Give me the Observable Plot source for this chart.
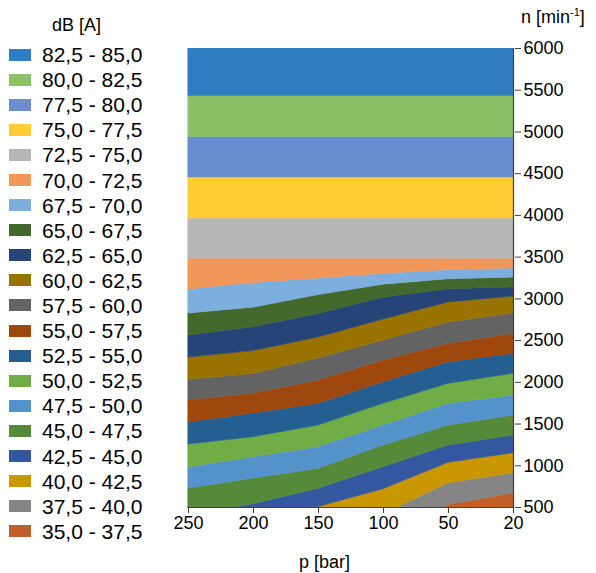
<!DOCTYPE html>
<html><head><meta charset="utf-8">
<script src="https://cdn.jsdelivr.net/npm/d3@7"></script>
<script src="https://cdn.jsdelivr.net/npm/@observablehq/plot@0.6"></script>
<style>
body{margin:0;background:#fff;font-family:"Liberation Sans",Arial,sans-serif;}
#wrap{position:relative;width:596px;height:573px;overflow:hidden;}
#chart{position:absolute;left:0;top:0;}
.t{position:absolute;font-size:18px;color:#000;white-space:nowrap;line-height:1;}
.t sup{font-size:11px;vertical-align:7px;line-height:0;}
#legend{position:absolute;left:9px;top:42px;}
.row{display:flex;align-items:center;height:25.1px;}
.sw{width:22px;height:12px;margin-right:11px;flex:none;}
.lb{font-size:21px;line-height:1;color:#000;white-space:nowrap;}
</style></head><body>
<div id="wrap">
  <div id="chart"></div>
  <div class="t" style="left:52px;top:16px">dB [A]</div>
  <div class="t" style="left:521px;top:8px">n [min<sup>-1</sup>]</div>
  <div class="t" style="left:299px;top:553px">p [bar]</div>
  <div id="legend"></div>
</div>
<script>
// p categories (left to right)
const pLabels = ["250", "200", "150", "100", "50", "20"];
// n tick values (right axis)
const yTicks = [500, 1000, 1500, 2000, 2500, 3000, 3500, 4000, 4500, 5000, 5500, 6000];

// band labels, low to high
const bandLabels = [
  "35,0 - 37,5", "37,5 - 40,0", "40,0 - 42,5", "42,5 - 45,0", "45,0 - 47,5",
  "47,5 - 50,0", "50,0 - 52,5", "52,5 - 55,0", "55,0 - 57,5", "57,5 - 60,0",
  "60,0 - 62,5", "62,5 - 65,0", "65,0 - 67,5", "67,5 - 70,0", "70,0 - 72,5",
  "72,5 - 75,0", "75,0 - 77,5", "77,5 - 80,0", "80,0 - 82,5", "82,5 - 85,0"
];
const bandColors = [
  "#C05F29", "#858585", "#C99800", "#3358A0", "#558A3A",
  "#5592CB", "#70AD47", "#255E91", "#9E480E", "#636363",
  "#997300", "#264478", "#43682B", "#7CAFDD", "#F1975A",
  "#B7B7B7", "#FFCD33", "#698ED0", "#8CC168", "#327DC2"
];

// speed n [min^-1] at which each dB level is reached, per p column
const n35   = [-800, -600, -400, -200, 250, 420];
const n37_5 = [-400, -200, 0, 200, 530, 670];
const n40   = [-200, 0, 200, 420, 790, 910];
const n42_5 = [100, 300, 505, 720, 1035, 1150];
const n45   = [400, 540, 724, 983, 1243, 1363];
const n47_5 = [728, 847, 964, 1243, 1483, 1602];
const n50   = [979, 1103, 1223, 1483, 1743, 1842];
const n52_5 = [1255, 1342, 1483, 1743, 1982, 2102];
const n55   = [1519, 1626, 1743, 2001, 2241, 2342];
const n57_5 = [1782, 1866, 2022, 2262, 2462, 2581];
const n60   = [2030, 2100, 2286, 2502, 2717, 2825];
const n62_5 = [2297, 2375, 2537, 2753, 2957, 3028];
const n65   = [2561, 2660, 2820, 3015, 3115, 3138];
const n67_5 = [2825, 2895, 3045, 3170, 3235, 3255];
const n70   = [3112, 3190, 3245, 3300, 3345, 3365];
const n72_5 = [3480, 3480, 3480, 3480, 3480, 3480];
const n75   = [3965, 3965, 3965, 3965, 3965, 3965];
const n77_5 = [4455, 4455, 4455, 4455, 4455, 4455];
const n80   = [4940, 4940, 4940, 4940, 4940, 4940];
const n82_5 = [5430, 5430, 5430, 5430, 5430, 5430];
const n85   = [6000, 6000, 6000, 6000, 6000, 6000];

const levels = [n35, n37_5, n40, n42_5, n45, n47_5, n50, n52_5, n55, n57_5,
  n60, n62_5, n65, n67_5, n70, n72_5, n75, n77_5, n80, n82_5, n85];

const rows = [];
bandLabels.forEach((b, i) => {
  pLabels.forEach((p, j) => {
    rows.push({band: b, p, lo: levels[i][j], hi: levels[i + 1][j]});
  });
});

const chart = Plot.plot({
  width: 596,
  height: 573,
  marginTop: 48,
  marginBottom: 66,
  marginLeft: 187,
  marginRight: 82,
  style: {fontFamily: "'Liberation Sans', Arial, sans-serif", fontSize: "18px", background: "transparent", color: "#000"},
  x: {type: "point", domain: pLabels, padding: 0},
  y: {domain: [500, 6000]},
  color: {domain: bandLabels, range: bandColors},
  marks: [
    Plot.areaY(rows, {x: "p", y1: "lo", y2: "hi", z: "band", fill: "band", stroke: "band", strokeWidth: 0.6, clip: true}),
    Plot.ruleX([pLabels[pLabels.length - 1]], {stroke: "#404040", strokeWidth: 1.2}),
    Plot.ruleY([500], {stroke: "#404040", strokeWidth: 1.2}),
    Plot.axisY(yTicks, {anchor: "right", tickSize: 6, tickPadding: 3, tickFormat: d => String(d), label: null, stroke: "#404040"}),
    Plot.axisX({anchor: "bottom", tickSize: 6, tickPadding: 3, label: null, stroke: "#404040"})
  ]
});
document.getElementById("chart").appendChild(chart);

const legend = document.getElementById("legend");
for (let i = bandLabels.length - 1; i >= 0; i--) {
  const row = document.createElement("div");
  row.className = "row";
  const sw = document.createElement("div");
  sw.className = "sw";
  sw.style.background = bandColors[i];
  const lb = document.createElement("div");
  lb.className = "lb";
  lb.textContent = bandLabels[i];
  row.appendChild(sw);
  row.appendChild(lb);
  legend.appendChild(row);
}
</script>
</body></html>
